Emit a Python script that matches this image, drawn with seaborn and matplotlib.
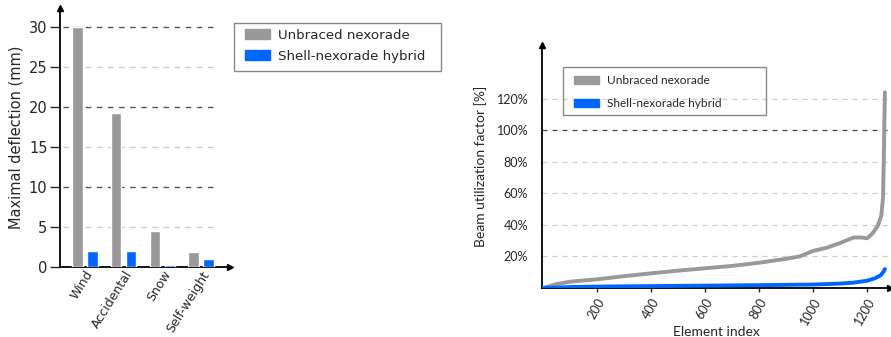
import matplotlib
matplotlib.use("Agg")
import matplotlib.pyplot as plt
import numpy as np
import pandas as pd
import seaborn as sns
from matplotlib.patches import Patch, Rectangle

# data
load_cases = ["Wind", "Accidental", "Snow", "Self-weight"]
unbraced_defl = [30.0, 19.2, 4.5, 1.9]
hybrid_defl = [2.0, 2.0, 0.3, 1.0]

elem_unbraced = [0, 50, 100, 200, 300, 400, 500, 600, 700, 800, 900, 950, 1000, 1050,
                 1100, 1150, 1180, 1200, 1220, 1240, 1253, 1259, 1262, 1264, 1266]
util_unbraced = [0, 2.5, 4, 5.5, 7.5, 9.3, 11, 12.5, 14, 16, 18.5, 20, 23.5, 25.5,
                 28.5, 32, 32, 31.5, 34.5, 39.5, 46, 57, 80, 105, 124]
elem_hybrid = [0, 100, 200, 400, 600, 800, 1000, 1100, 1150, 1200, 1230, 1250, 1262, 1266]
util_hybrid = [0, 0.6, 0.9, 1.2, 1.5, 1.8, 2.2, 2.8, 3.4, 4.6, 6.2, 8, 10.5, 12]

series_names = ["Unbraced nexorade", "Shell-nexorade hybrid"]
colors = ["#999999", "#0066ff"]

sns.set_style("white")
plt.rcParams['font.family'] = ['DejaVu Sans']

W, H = 891, 337
fig = plt.figure(figsize=(W / 100, H / 100), dpi=100)

def px_axes(x0, y0, x1, y1):
    # pixel box (top-left origin) -> figure fraction axes
    return fig.add_axes([x0 / W, 1 - y1 / H, (x1 - x0) / W, (y1 - y0) / H])

def px_box(x0, y0, x1, y1):
    fig.patches.append(Rectangle((x0 / W, 1 - y1 / H), (x1 - x0) / W, (y1 - y0) / H,
                                 transform=fig.transFigure, fill=False,
                                 ec="#888888", lw=1))

def arrow_axes(ax):
    for s in ["top", "right"]:
        ax.spines[s].set_visible(False)
    for s in ["left", "bottom"]:
        ax.spines[s].set_linewidth(1.3)
        ax.spines[s].set_color("black")
    ax.plot(1, 0, ">k", ms=5, transform=ax.transAxes, clip_on=False)
    ax.plot(0, 1, "^k", ms=5, transform=ax.transAxes, clip_on=False)

# ---- left: deflection bars
ax1 = px_axes(60, 8, 230, 267)
df = pd.DataFrame({
    "case": load_cases * 2,
    "defl": unbraced_defl + hybrid_defl,
    "model": [series_names[0]] * 4 + [series_names[1]] * 4,
})
sns.barplot(data=df, x="case", y="defl", hue="model", palette=colors,
            width=0.78, gap=0.3, saturation=1, legend=False, ax=ax1, zorder=3)
ax1.set_ylim(0, 259 / 8)
ax1.set_xlim(-0.646, 3.75)
for yv in [5, 10, 15, 20, 25, 30]:
    major = yv % 10 == 0
    ax1.axhline(yv, xmin=0.02, xmax=0.918, color="#555555" if major else "#cccccc",
                lw=1, ls=(0, (4, 4)), zorder=1)
ax1.set_yticks([0, 5, 10, 15, 20, 25, 30])
ax1.tick_params(axis="y", length=7, width=1, labelsize=10.5, pad=2, left=True)
ax1.tick_params(axis="x", length=0, labelsize=9, pad=1)
ax1.set_xticks(range(len(load_cases)))
ax1.set_xticklabels(load_cases, rotation=58, ha="right", rotation_mode="anchor")
ax1.set_xlabel("")
ax1.set_ylabel("Maximal deflection (mm)", fontsize=10.5, labelpad=4)
arrow_axes(ax1)

handles = [Patch(color=c, label=n) for c, n in zip(colors, series_names)]
px_box(234, 23, 441, 71)
fig.legend(handles=handles, loc="upper left",
           bbox_to_anchor=(245 / W, 1 - 29 / H), borderaxespad=0, borderpad=0,
           fontsize=9.6, frameon=False,
           handlelength=1.9, handleheight=0.75,
           labelspacing=0.6, handletextpad=0.6)

# ---- right: utilization curves
ax2 = px_axes(542, 45, 890, 288)
curves = pd.concat([
    pd.DataFrame({"elem": elem_unbraced, "util": util_unbraced, "model": series_names[0]}),
    pd.DataFrame({"elem": elem_hybrid, "util": util_hybrid, "model": series_names[1]}),
])
sns.lineplot(data=curves, x="elem", y="util", hue="model", palette=colors,
             lw=2.8, legend=False, ax=ax2, zorder=3, sort=False)
ax2.set_xlim(-4, 1285)
ax2.set_ylim(0, 154)
for yv in [20, 40, 60, 80, 100, 120]:
    ax2.axhline(yv, xmin=0, xmax=1.0, color="#444444" if yv == 100 else "#cccccc",
                lw=0.9, ls=(0, (4, 4)), zorder=1, clip_on=False)
ax2.set_yticks([20, 40, 60, 80, 100, 120])
ax2.set_yticklabels([f"{v}%" for v in [20, 40, 60, 80, 100, 120]])
ax2.set_xticks([200, 400, 600, 800, 1000, 1200])
ax2.set_xticklabels(["200", "400", "600", "800", "1000", "1200"], rotation=60,
                    ha="right", rotation_mode="anchor")
ax2.tick_params(axis="y", length=0, labelsize=9, pad=10)
ax2.tick_params(axis="x", length=3, width=1, bottom=True, labelsize=9, pad=3)
for t in ax2.get_xticklabels() + ax2.get_yticklabels():
    t.set_family("Lato")
ax2.set_xlabel("Element index", fontsize=10, family="Lato", labelpad=-1)
ax2.set_ylabel("Beam utilization factor [%]", fontsize=10, family="Lato", labelpad=7)
arrow_axes(ax2)

handles2 = [Patch(color=c, label=n) for c, n in zip(colors, series_names)]
px_box(563, 67, 766, 115)
fig.legend(handles=handles2, loc="upper left",
           bbox_to_anchor=(574 / W, 1 - 75 / H), borderaxespad=0, borderpad=0,
           prop={"family": "Lato", "size": 8.6}, frameon=False,
           handlelength=2.1, handleheight=0.65,
           labelspacing=1.0, handletextpad=0.7)

fig.savefig("out.png", dpi=100)
